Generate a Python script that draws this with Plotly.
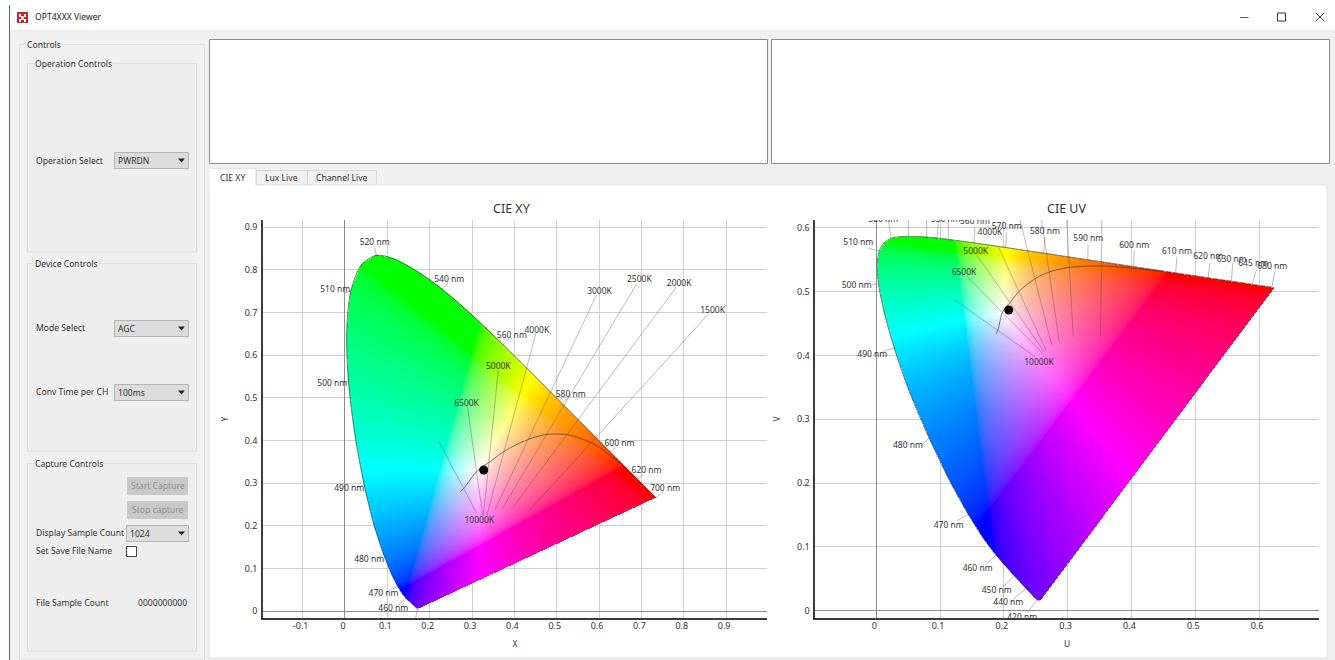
import numpy as np
import plotly.graph_objects as go

# ---------------- data ----------------
WAVELENGTHS = [380,420,430,440,450,460,465,470,475,480,485,490,495,500,505,510,515,520,525,530,535,540,545,550,
               555,560,565,570,575,580,585,590,595,600,605,610,620,630,645,660,680,700]
LOCUS_X = [.1741,.1714,.1689,.1644,.1566,.1440,.1355,.1241,.1096,.0913,.0687,.0454,.0235,.0082,.0039,.0139,.0389,.0743,.1142,.1547,.1929,.2296,.2658,.3016,
           .3373,.3731,.4087,.4441,.4788,.5125,.5448,.5752,.6029,.6270,.6482,.6658,.6915,.7079,.7215,.7300,.7334,.7347]
LOCUS_Y = [.0050,.0051,.0069,.0109,.0177,.0297,.0399,.0578,.0868,.1327,.2007,.2950,.4127,.5384,.6548,.7502,.8120,.8338,.8262,.8059,.7816,.7543,.7243,.6923,
           .6589,.6245,.5896,.5547,.5202,.4866,.4544,.4242,.3965,.3725,.3514,.3340,.3083,.2920,.2785,.2700,.2666,.2653]

PLANCK_X = [.273,.281,.313,.345,.380,.437,.477,.500,.526,.585,.652]
PLANCK_Y = [.280,.288,.329,.352,.377,.404,.414,.415,.413,.393,.345]

DOT_X = [.3275]
DOT_Y = [.3305]

XY_WL = [520,510,540,500,560,580,600,620,700,490,480,470,460]
XY_WL_LABEL_X = [.070,-.023,.246,-.030,.394,.533,.648,.712,.756,.010,.057,.091,.114]
XY_WL_LABEL_Y = [.866,.756,.778,.534,.648,.509,.395,.331,.288,.288,.123,.042,.007]
XY_WL_TICK_X = [.070,.0,.245,-.005,.388,.525,.641,.705,.750,.030,.080,.105,.125]
XY_WL_TICK_Y = [.852,.745,.772,.535,.638,.498,.386,.322,.280,.290,.125,.048,.012]
XY_EXTRA_TICK_X = [.1714,.166]
XY_EXTRA_TICK_Y = [.0051,-.020]

CCT_NAMES = ["1500K","2000K","2500K","3000K","4000K","5000K","6500K","10000K"]
XY_CCT_LABEL_X = [.868,.789,.695,.601,.453,.362,.287,.317]
XY_CCT_LABEL_Y = [.706,.770,.778,.751,.659,.575,.489,.214]
XY_CCT_X0 = [.858,.783,.689,.594,.451,.362,.289,.222]
XY_CCT_Y0 = [.696,.760,.768,.741,.651,.565,.479,.397]
XY_CCT_X1 = [.433,.396,.371,.354,.335,.327,.325,.311]
XY_CCT_Y1 = [.233,.242,.239,.237,.225,.225,.225,.229]

UV_WL = [520,550,560,570,580,590,600,610,620,630,645,680,510,500,490,480,470,460,450,440,420]
UV_WL_LABEL_U = [.011,.1088,.1547,.2044,.2644,.3323,.4044,.4713,.5204,.5571,.5909,.6207,-.0282,-.0307,-.0063,.0497,.1135,.1589,.1887,.2069,.2288]
UV_WL_LABEL_V = [.6122,.6122,.6097,.6019,.5931,.5826,.5721,.5627,.5549,.5497,.5429,.5392,.5759,.5094,.4008,.2582,.1332,.0654,.0313,.0116,-.0112]
UV_TICK_WL = [520,530,540,545,550,560,570,580,590,600,610,620,630,645,680,510,500,490,480,470,460,450,440,420]
UV_TICK_U = [.0163,.0502,.079,.0987,.1129,.1547,.2044,.2644,.332,.4044,.4713,.523,.559,.596,.625,-.0125,-.0072,.011,.070,.126,.173,.199,.2147,.2357]
UV_TICK_V = [.63,.63,.63,.63,.63,.60,.594,.585,.574,.565,.555,.5455,.545,.534,.5314,.568,.5105,.406,.258,.141,.074,.0376,.0183,-.004]

UV_CCT_LABEL_NAMES = ["4000K","5000K","6500K","10000K"]
UV_CCT_LABEL_U = [.1782,.1558,.1375,.2550]
UV_CCT_LABEL_V = [.5931,.5643,.5313,.3903]
UV_CCT_U0 = [.354,.297,.2552,.2182,.1912,.1574,.1417,.1207]
UV_CCT_V0 = [.64,.64,.64,.64,.5705,.5575,.5246,.4886]
UV_CCT_U1 = [.3517,.3088,.2868,.2749,.2660,.2633,.2608,.2488]
UV_CCT_V1 = [.4291,.4295,.4216,.4165,.4086,.4060,.4034,.3981]

XY_XTICKS = [-.1,0,.1,.2,.3,.4,.5,.6,.7,.8,.9]
XY_XLABELS = ["-0.1","0","0.1","0.2","0.3","0.4","0.5","0.6","0.7","0.8","0.9"]
XY_YTICKS = [0,.1,.2,.3,.4,.5,.6,.7,.8,.9]
XY_YLABELS = ["0","0.1","0.2","0.3","0.4","0.5","0.6","0.7","0.8","0.9"]
UV_XTICKS = [0,.1,.2,.3,.4,.5,.6]
UV_XLABELS = ["0","0.1","0.2","0.3","0.4","0.5","0.6"]
UV_YTICKS = [0,.1,.2,.3,.4,.5,.6]
UV_YLABELS = ["0","0.1","0.2","0.3","0.4","0.5","0.6"]

W, H = 1335, 660
FONT = "Noto Sans"
TXT = "#333333"
LABEL_SIZE = 8.5
UI_SIZE = 8.6

# ---------------- colorimetry ----------------
def xy2uv(x, y):
    x, y = np.asarray(x, float), np.asarray(y, float)
    d = -2 * x + 12 * y + 3
    return 4 * x / d, 9 * y / d

def uv2xy(u, v):
    d = 6 * u - 16 * v + 12
    return 9 * u / d, 4 * v / d

def inside(X, Y, px, py):
    m = np.zeros(X.shape, bool)
    j = len(px) - 1
    for i in range(len(px)):
        yi, yj, xi, xj = py[i], py[j], px[i], px[j]
        if yi != yj:
            c = ((yi > Y) != (yj > Y)) & (X < (xj - xi) * (Y - yi) / (yj - yi) + xi)
            m ^= c
        j = i
    return m

def gamut_rgba(X, Y, mask):
    Y = np.maximum(Y, 1e-4)
    XX, ZZ = X / Y, (1 - X - Y) / Y
    R = 3.2406 * XX - 1.5372 - 0.4986 * ZZ
    G = -0.9689 * XX + 1.8758 + 0.0415 * ZZ
    B = 0.0557 * XX - 0.2040 + 1.0570 * ZZ
    rgb = np.clip(np.stack([R, G, B], -1), 0, None)
    rgb = rgb / np.maximum(rgb.max(-1, keepdims=True), 1e-6)
    rgb = rgb ** (1 / 2.2)
    out = np.zeros(X.shape + (4,), np.uint8)
    out[..., :3] = np.round(rgb * 255).astype(np.uint8)
    out[..., 3] = mask * 255
    return out

def segments(x0, y0, x1, y1):
    xs, ys = [], []
    for a, b, c, d in zip(x0, y0, x1, y1):
        xs += [float(a), float(c), None]
        ys += [float(b), float(d), None]
    return xs, ys

lx, ly = np.array(LOCUS_X), np.array(LOCUS_Y)
lu, lv = xy2uv(lx, ly)
wl_idx = {w: i for i, w in enumerate(WAVELENGTHS)}

fig = go.Figure()

# pixel scale of the two plot frames
XY_BOX = (263, 767, 220, 618)
UV_BOX = (815.3, 1319, 220, 618)
XY_RANGE = ([-.1936, .9965], [-.0164, .9166])
UV_RANGE = ([-.0956, .694], [-.0114, .6124])

# XY gamut image
dx = (XY_RANGE[0][1] - XY_RANGE[0][0]) / (XY_BOX[1] - XY_BOX[0])
dy = (XY_RANGE[1][1] - XY_RANGE[1][0]) / (XY_BOX[3] - XY_BOX[2])
gx = np.arange(lx.min() - dx, lx.max() + dx, dx)
gy = np.arange(ly.min() - dy, ly.max() + dy, dy)
GX, GY = np.meshgrid(gx, gy)
img_xy = gamut_rgba(GX, GY, inside(GX, GY, lx, ly))
fig.add_trace(go.Image(z=img_xy.tolist(), colormodel="rgba", zmin=[0, 0, 0, 0], zmax=[255, 255, 255, 255],
                       x0=float(gx[0]), y0=float(gy[0]), dx=dx, dy=dy, xaxis="x", yaxis="y", hoverinfo="skip"))

# UV gamut image
du = (UV_RANGE[0][1] - UV_RANGE[0][0]) / (UV_BOX[1] - UV_BOX[0])
dv = (UV_RANGE[1][1] - UV_RANGE[1][0]) / (UV_BOX[3] - UV_BOX[2])
gu = np.arange(lu.min() - du, lu.max() + du, du)
gv = np.arange(lv.min() - dv, lv.max() + dv, dv)
GU, GV = np.meshgrid(gu, gv)
UX, UY = uv2xy(GU, GV)
img_uv = gamut_rgba(UX, UY, inside(GU, GV, lu, lv))
fig.add_trace(go.Image(z=img_uv.tolist(), colormodel="rgba", zmin=[0, 0, 0, 0], zmax=[255, 255, 255, 255],
                       x0=float(gu[0]), y0=float(gv[0]), dx=du, dy=dv, xaxis="x2", yaxis="y2", hoverinfo="skip"))

GREY = "rgba(60,60,60,0.34)"
CURVE = "rgba(40,40,40,0.6)"

def add_line(x, y, ax, color, width=1, spline=False):
    fig.add_trace(go.Scatter(x=x, y=y, mode="lines", xaxis=ax[0], yaxis=ax[1], hoverinfo="skip",
                             line=dict(color=color, width=width, shape="spline" if spline else "linear", smoothing=0.8)))

def add_text(x, y, t, ax):
    fig.add_trace(go.Scatter(x=x, y=y, text=t, mode="text", xaxis=ax[0], yaxis=ax[1], hoverinfo="skip",
                             textposition="middle center", cliponaxis=True,
                             textfont=dict(family=FONT, size=LABEL_SIZE, color=TXT)))

# --- XY plot overlays
AX1, AX2 = ("x", "y"), ("x2", "y2")
s = segments(XY_CCT_X0, XY_CCT_Y0, XY_CCT_X1, XY_CCT_Y1)
add_line(s[0], s[1], AX1, GREY)
s = segments([lx[wl_idx[w]] for w in XY_WL], [ly[wl_idx[w]] for w in XY_WL], XY_WL_TICK_X, XY_WL_TICK_Y)
add_line(s[0], s[1], AX1, GREY)
add_line(XY_EXTRA_TICK_X, XY_EXTRA_TICK_Y, AX1, GREY)
add_line(LOCUS_X, LOCUS_Y, AX1, "#333333", 0.7, True)
add_line(PLANCK_X, PLANCK_Y, AX1, CURVE, 1, True)
fig.add_trace(go.Scatter(x=DOT_X, y=DOT_Y, mode="markers", xaxis="x", yaxis="y", hoverinfo="skip",
                         marker=dict(color="black", size=9)))
add_text(XY_WL_LABEL_X, [v - .0023 for v in XY_WL_LABEL_Y], [f"{w} nm" for w in XY_WL], AX1)
add_text(XY_CCT_LABEL_X, [v - .0023 for v in XY_CCT_LABEL_Y], CCT_NAMES, AX1)

# --- UV plot overlays
s = segments(UV_CCT_U0, UV_CCT_V0, UV_CCT_U1, UV_CCT_V1)
add_line(s[0], s[1], AX2, GREY)
s = segments([lu[wl_idx[w]] for w in UV_TICK_WL], [lv[wl_idx[w]] for w in UV_TICK_WL], UV_TICK_U, UV_TICK_V)
add_line(s[0], s[1], AX2, GREY)
add_line(lu.tolist(), lv.tolist(), AX2, "#333333", 0.7, True)
pu, pv = xy2uv(PLANCK_X, PLANCK_Y)
add_line(pu.tolist(), pv.tolist(), AX2, CURVE, 1, True)
du0, dv0 = xy2uv(DOT_X, DOT_Y)
fig.add_trace(go.Scatter(x=du0.tolist(), y=dv0.tolist(), mode="markers", xaxis="x2", yaxis="y2", hoverinfo="skip",
                         marker=dict(color="black", size=9)))
add_text(UV_WL_LABEL_U, UV_WL_LABEL_V, [f"{w} nm" for w in UV_WL], AX2)
add_text(UV_CCT_LABEL_U, [v - .0016 for v in UV_CCT_LABEL_V], UV_CCT_LABEL_NAMES, AX2)

# ---------------- window chrome (pixel helpers) ----------------
shapes, anns = [], []
def fx(p): return p / W
def fy(p): return 1 - p / H

def rect(x0, y0, x1, y1, fill=None, line=None, lw=1):
    shapes.append(dict(type="rect", xref="paper", yref="paper", layer="below",
                       x0=fx(x0), x1=fx(x1), y0=fy(y0), y1=fy(y1),
                       fillcolor=fill or "rgba(0,0,0,0)",
                       line=dict(color=line or "rgba(0,0,0,0)", width=lw if line else 0)))

def seg(x0, y0, x1, y1, color, lw=1):
    shapes.append(dict(type="line", xref="paper", yref="paper", layer="below",
                       x0=fx(x0), x1=fx(x1), y0=fy(y0), y1=fy(y1), line=dict(color=color, width=lw)))

def tri(cx, cy, color="#222222"):
    a = (fx(cx - 3.5), fy(cy - 2)); b = (fx(cx + 3.5), fy(cy - 2)); c = (fx(cx), fy(cy + 2))
    shapes.append(dict(type="path", xref="paper", yref="paper", layer="below",
                       path=f"M {a[0]} {a[1]} L {b[0]} {b[1]} L {c[0]} {c[1]} Z",
                       fillcolor=color, line=dict(width=0)))

def label(x, y, t, size=UI_SIZE, anchor="left", color=TXT, bg=None, angle=0):
    anns.append(dict(xref="paper", yref="paper", x=fx(x), y=fy(y), text=t, showarrow=False, xanchor=anchor,
                     yanchor="middle", align="left", borderpad=0, textangle=angle,
                     bgcolor=bg or "rgba(0,0,0,0)", font=dict(family=FONT, size=size, color=color)))

PANEL = "#f0f0f0"
rect(10, 30, W, H, PANEL)
seg(9.5, 5, 9.5, H, "#4f6a5c", 1)
# title bar
rect(17, 12, 28, 23, "#c4262e")
rect(19, 14, 21, 17, "#ffffff"); rect(24, 14, 26, 17, "#ffffff"); rect(19, 19, 21, 22, "#ffffff"); rect(24, 19, 26, 22, "#ffffff")
rect(21, 16, 24, 20, "#f6d5d6")
label(34, 17, "OPT4XXX Viewer", UI_SIZE, color="#222222")
seg(1240, 17.5, 1248.5, 17.5, "#555555")
rect(1277.5, 13, 1285.5, 21, None, "#333333")
seg(1316, 13, 1324, 21, "#444444"); seg(1316, 21, 1324, 13, "#444444")
# group boxes
rect(19.5, 44.5, 204.5, 660, None, "#dcdcdc")
rect(27.5, 63.5, 196.5, 252, "#eeeeee", "#dcdcdc")
rect(27.5, 263.5, 196.5, 451, "#eeeeee", "#dcdcdc")
rect(27.5, 463.5, 196.5, 651, "#eeeeee", "#dcdcdc")
label(26, 45, "Controls", bg=PANEL)
label(34, 64, "Operation Controls", bg=PANEL)
label(34, 264, "Device Controls", bg=PANEL)
label(34, 463.5, "Capture Controls", bg=PANEL)

def combo(x0, y0, x1, y1, t):
    rect(x0 + .5, y0 + .5, x1 - .5, y1 - .5, "#dcdcdc", "#b4b4b4")
    label(x0 + 3, (y0 + y1) / 2, t)
    tri(x1 - 7.5, (y0 + y1) / 2)

label(35, 161, "Operation Select"); combo(114, 152, 189, 169, "PWRDN")
label(35, 328, "Mode Select"); combo(114, 320, 189, 337, "AGC")
label(35, 392, "Conv Time per CH"); combo(114, 384, 189, 401, "100ms")
rect(127, 477, 188, 495, "#c8c8c8"); label(157.5, 486, "Start Capture", anchor="center", color="#8f8f8f")
rect(127, 501, 188, 519, "#c8c8c8"); label(157.5, 510, "Stop capture", anchor="center", color="#8f8f8f")
label(35, 533, "Display Sample Count"); combo(126, 525, 189, 542, "1024")
label(35, 551, "Set Save File Name"); rect(126.5, 546.5, 136.5, 556.5, "#ffffff", "#444444")
label(35, 603, "File Sample Count"); label(188, 603, "0000000000", anchor="right")
# top panes
rect(209.5, 39.5, 767.5, 163.5, "#ffffff", "#8a8a8a")
rect(771.5, 39.5, 1329.5, 163.5, "#ffffff", "#8a8a8a")
# tabs
rect(256.5, 170.5, 307.5, 185, PANEL, "#d8d8d8")
rect(307.5, 170.5, 376.5, 185, PANEL, "#d8d8d8")
rect(209, 185, 1327, 658, "#ffffff", "#e2e2e2")
rect(210, 168.5, 256, 186, "#ffffff")
seg(210, 168.5, 256, 168.5, "#e2e2e2"); seg(256, 168.5, 256, 185, "#d8d8d8")
label(232, 178, "CIE XY", anchor="center")
label(281, 178, "Lux Live", anchor="center")
label(342, 178, "Channel Live", anchor="center")
# plot titles
label(512, 208, "CIE XY", 12.5, "center")
label(1066, 208, "CIE UV", 12.5, "center")

# ---------------- axes ----------------
def axis(domain, rng, tv, tt, anchor, title, standoff, stand_labels, shift):
    return dict(domain=domain, range=rng, autorange=False, tickmode="array", tickvals=tv, ticktext=tt,
                showgrid=True, gridcolor="#cfcfcf", gridwidth=1, zeroline=True, zerolinecolor="#8c8c8c", zerolinewidth=1.4,
                showline=True, linecolor="#3c3c3c", linewidth=1.5, ticks="", anchor=anchor, mirror=False,
                ticklabelstandoff=stand_labels, ticklabelshift=shift,
                tickfont=dict(family=FONT, size=9, color=TXT), fixedrange=True,
                title=dict(text=title, standoff=standoff, font=dict(family=FONT, size=8.5, color=TXT)))

xd1 = [XY_BOX[0] / W, XY_BOX[1] / W]
xd2 = [UV_BOX[0] / W, UV_BOX[1] / W]
yd = [1 - XY_BOX[3] / H, 1 - XY_BOX[2] / H]

fig.update_layout(
    width=W, height=H, margin=dict(l=0, r=0, t=0, b=0), autosize=False,
    paper_bgcolor="#ffffff", plot_bgcolor="rgba(0,0,0,0)", showlegend=False,
    shapes=shapes, annotations=anns,
    xaxis=axis(xd1, XY_RANGE[0], XY_XTICKS, XY_XLABELS, "y", "X", 11, -2, -2),
    yaxis=dict(axis(yd, XY_RANGE[1], XY_YTICKS, XY_YLABELS, "x", "Y", 15, 2, 0), scaleanchor=False),
    xaxis2=axis(xd2, UV_RANGE[0], UV_XTICKS, UV_XLABELS, "y2", "U", 11, -2, -2),
    yaxis2=dict(axis(yd, UV_RANGE[1], UV_YTICKS, UV_YLABELS, "x2", "V", 15, 2, 0), scaleanchor=False),
)

fig.write_html("out.html", config=dict(displayModeBar=False),
               post_script="document.body.style.margin='0';document.body.style.overflow='hidden';")
